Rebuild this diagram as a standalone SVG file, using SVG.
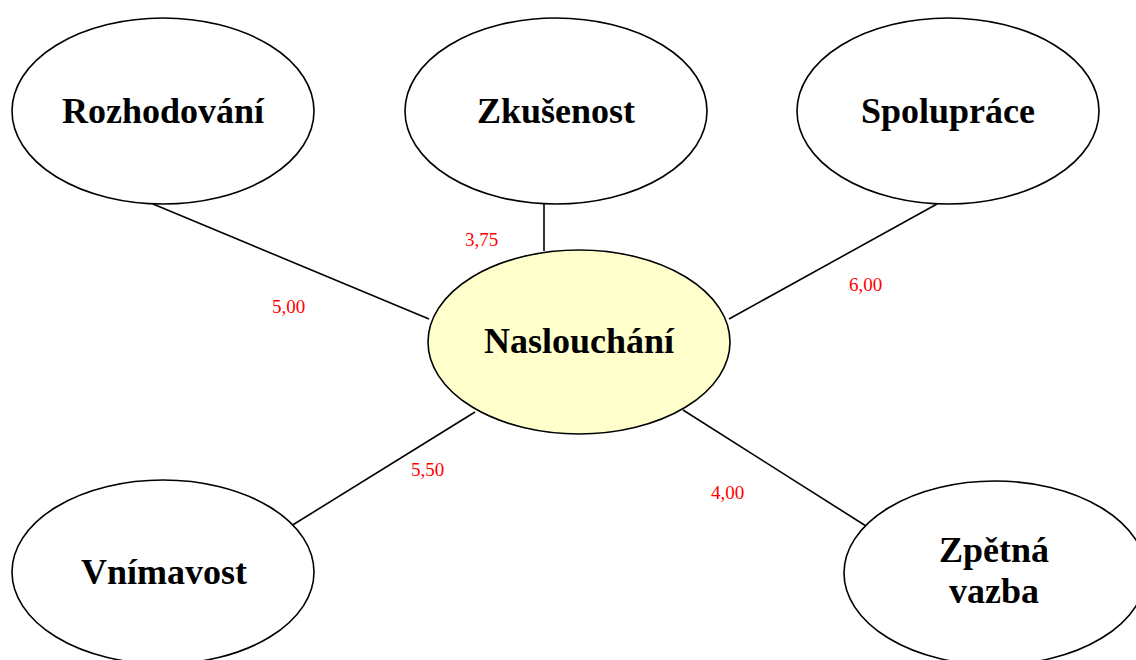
<svg xmlns="http://www.w3.org/2000/svg" width="1136" height="660" viewBox="0 0 1136 660">
  <style>
    .node { fill: #ffffff; stroke: #000000; stroke-width: 1.6; }
    .center { fill: #ffffcc; }
    .label { font-family: "Liberation Serif", "Times New Roman", serif; font-weight: bold; font-size: 36px; fill: #000000; text-anchor: middle; }
    .edge { stroke: #000000; stroke-width: 1.6; fill: none; }
    .weight { font-family: "Liberation Serif", "Times New Roman", serif; font-size: 19px; fill: #ff0000; }
  </style>
  <rect width="1136" height="660" fill="#ffffff"/>

  <!-- connectors from the central node, with their weights -->
  <g id="connectors">
    <line class="edge" x1="153" y1="204" x2="429" y2="319"/>
    <line class="edge" x1="544" y1="203" x2="544" y2="251"/>
    <line class="edge" x1="937" y1="204" x2="729" y2="319"/>
    <line class="edge" x1="291" y1="526" x2="475" y2="412"/>
    <line class="edge" x1="683" y1="410" x2="866" y2="526"/>
    <text class="weight" x="465" y="246">3,75</text>
    <text class="weight" x="272" y="313">5,00</text>
    <text class="weight" x="849" y="291">6,00</text>
    <text class="weight" x="411" y="476">5,50</text>
    <text class="weight" x="711" y="499">4,00</text>
  </g>

  <g id="rozhodovani">
    <ellipse class="node" cx="163" cy="111" rx="151" ry="93"/>
    <text class="label" x="163" y="123">Rozhodování</text>
  </g>

  <g id="zkusenost">
    <ellipse class="node" cx="556" cy="111" rx="151" ry="93"/>
    <text class="label" x="556" y="123">Zkušenost</text>
  </g>

  <g id="spoluprace">
    <ellipse class="node" cx="948" cy="111" rx="151" ry="93"/>
    <text class="label" x="948" y="123">Spolupráce</text>
  </g>

  <g id="nasloucháni">
    <ellipse class="node center" cx="579" cy="342" rx="151" ry="92"/>
    <text class="label" x="579" y="353">Naslouchání</text>
  </g>

  <g id="vnimavost">
    <ellipse class="node" cx="163" cy="572" rx="151" ry="92"/>
    <text class="label" x="164" y="584">Vnímavost</text>
  </g>

  <g id="zpetna-vazba">
    <ellipse class="node" cx="995" cy="573" rx="151" ry="92"/>
    <text class="label" x="994" y="562">Zpětná</text>
    <text class="label" x="994" y="603">vazba</text>
  </g>
</svg>
